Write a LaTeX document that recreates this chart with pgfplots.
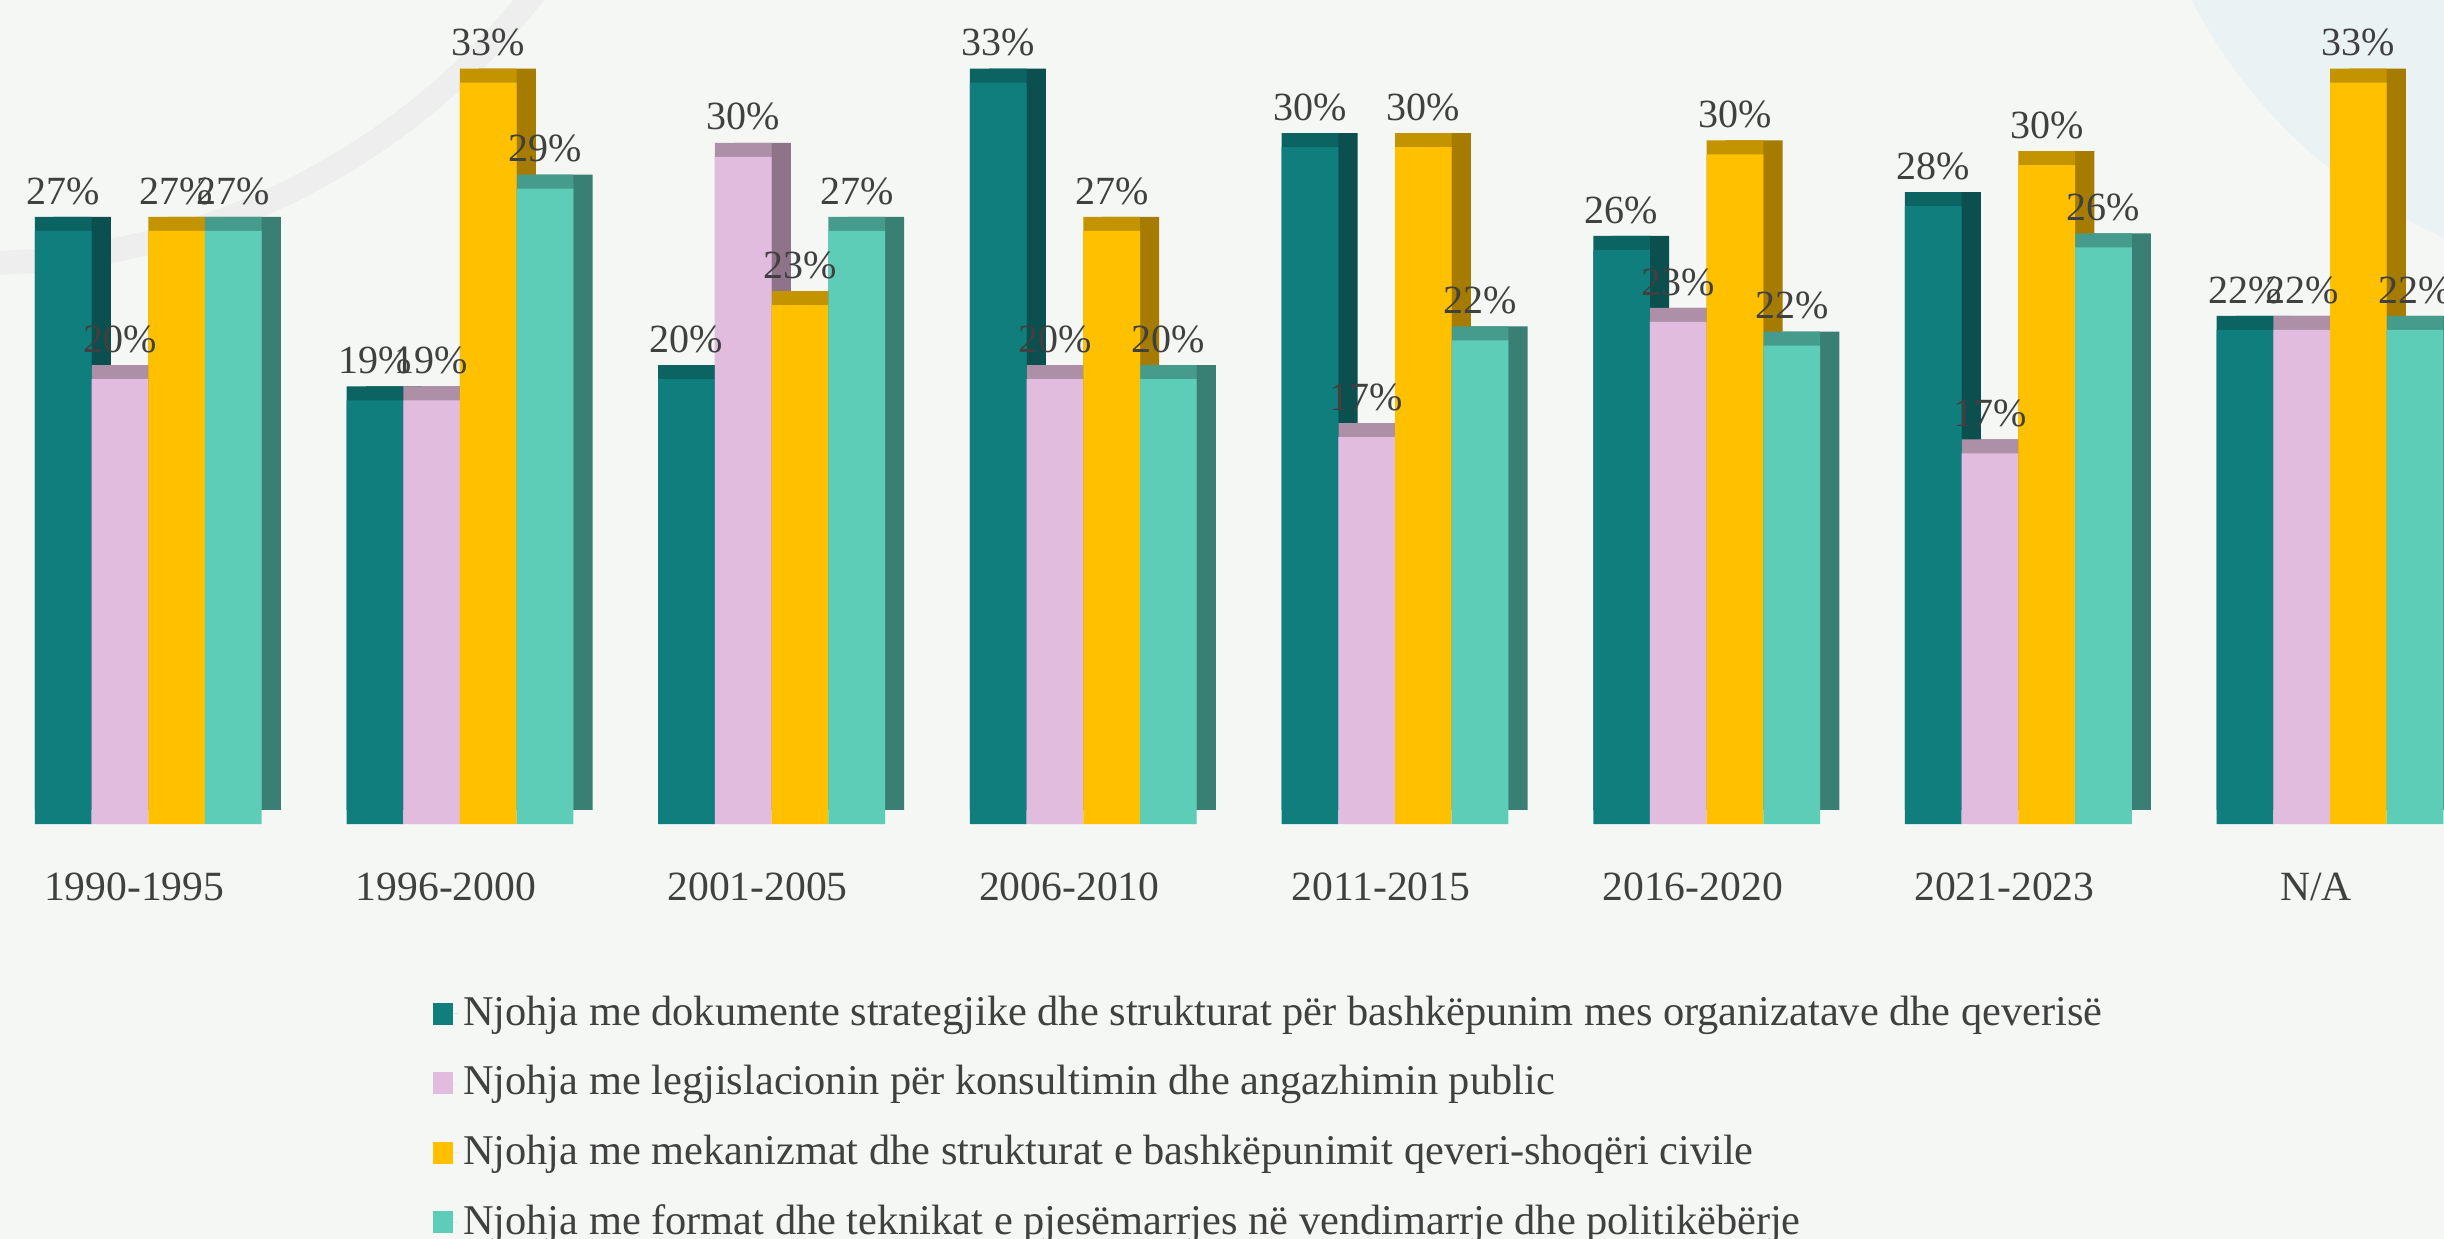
\documentclass[border=0pt]{standalone}
\usepackage{fontspec}
\setmainfont{Liberation Serif}
\usepackage{pgfplots}
\pgfplotsset{compat=1.18}
\definecolor{cTeal}{HTML}{107E7D}
\definecolor{cPink}{HTML}{E1BCDE}
\definecolor{cYel}{HTML}{FFC000}
\definecolor{cMint}{HTML}{5ECDB7}
\definecolor{sTeal}{HTML}{0B4F4F}
\definecolor{sPink}{HTML}{8E7389}
\definecolor{sYel}{HTML}{A67C00}
\definecolor{sMint}{HTML}{3A7F73}
\definecolor{tTeal}{HTML}{0C6462}
\definecolor{tPink}{HTML}{AD8FA8}
\definecolor{tYel}{HTML}{C49300}
\definecolor{tMint}{HTML}{469C8C}
\definecolor{txt}{HTML}{404040}
\definecolor{bg}{HTML}{F5F7F5}
\definecolor{deco}{HTML}{EAF2F4}
\definecolor{arc}{HTML}{EDEEED}
\pgfplotstableread{
x  a     b     c     d
0  26.67 20.00 26.67 26.67
1  19.05 19.05 33.33 28.57
2  20.00 30.00 23.33 26.67
3  33.33 20.00 26.67 20.00
4  30.43 17.39 30.43 21.74
5  25.81 22.58 30.11 21.51
6  27.78 16.67 29.63 25.93
7  22.22 22.22 33.33 22.22
}\data
\begin{document}
\begin{tikzpicture}
\useasboundingbox (0,0) rectangle (611bp,309.75bp);
\clip (0,0) rectangle (611bp,309.75bp);
\fill[bg] (0,0) rectangle (611bp,309.75bp);
\fill[deco] (662.5bp,368.2bp) circle (128.6bp);
\draw[arc, line width=6bp] (-5bp,420bp) circle (176bp);
\begin{axis}[
  at={(0bp,103.75bp)}, anchor=south west,
  width=611bp, height=206bp, scale only axis,
  xmin=-0.4757, xmax=7.3657, ymin=0, ymax=37.05,
  clip=false,
  axis line style={draw=none}, tick style={draw=none},
  ytick=\empty,
  xtick={0,1,2,3,4,5,6,7},
  xticklabels={1990-1995,1996-2000,2001-2005,2006-2010,2011-2015,2016-2020,2021-2023,N/A},
  xticklabel style={font=\fontsize{10.4bp}{12.5bp}\selectfont, text=txt, anchor=base, yshift=-14.8bp, xshift=-3.5bp},
  ybar, bar width=0.1819,
  legend cell align=left,
  legend style={at={(axis description cs:0.1769,-0.202)}, anchor=north west, draw=none, fill=none,
    font=\fontsize{10.6bp}{12.7bp}\selectfont, text=txt, row sep=6.1bp, inner sep=0pt,
    nodes={inner sep=1.2bp}},
  legend image code/.code={\fill[#1] (0bp,-2.75bp) rectangle (5bp,2.75bp); \path (0bp,0bp) -- (6.3bp,0bp);},
  side/.style={draw=none, forget plot, xshift=4.8bp, yshift=3.5bp},
  top/.style={draw=none, forget plot, yshift=3.5bp},
  lbl/.style={draw=none, point meta=explicit,
    nodes near coords={\pgfmathprintnumber[fixed,precision=0]{\pgfplotspointmeta}\%},
    nodes near coords style={font=\fontsize{10bp}{12bp}\selectfont, text=txt, anchor=base, yshift=6.7bp,
      /pgf/number format/assume math mode=true}},
]
% side faces
\addplot[fill=sTeal, side, bar shift=-0.27285] table[x=x,y=a] {\data};
\addplot[fill=sPink, side, bar shift=-0.09095] table[x=x,y=b] {\data};
\addplot[fill=sYel,  side, bar shift=0.09095]  table[x=x,y=c] {\data};
\addplot[fill=sMint, side, bar shift=0.27285]  table[x=x,y=d] {\data};
% top faces
\addplot[fill=tTeal, top, bar shift=-0.27285] table[x=x,y=a] {\data};
\addplot[fill=tPink, top, bar shift=-0.09095] table[x=x,y=b] {\data};
\addplot[fill=tYel,  top, bar shift=0.09095]  table[x=x,y=c] {\data};
\addplot[fill=tMint, top, bar shift=0.27285]  table[x=x,y=d] {\data};
% front faces
\addplot[fill=cTeal, lbl, bar shift=-0.27285] table[x=x,y=a,meta=a] {\data};
\addplot[fill=cPink, lbl, bar shift=-0.09095] table[x=x,y=b,meta=b] {\data};
\addplot[fill=cYel,  lbl, bar shift=0.09095]  table[x=x,y=c,meta=c] {\data};
\addplot[fill=cMint, lbl, bar shift=0.27285]  table[x=x,y=d,meta=d] {\data};
\legend{Njohja me dokumente strategjike dhe strukturat për bashkëpunim mes organizatave dhe qeverisë,
Njohja me legjislacionin për konsultimin dhe angazhimin public,
Njohja me mekanizmat dhe strukturat e bashkëpunimit qeveri-shoqëri civile,
Njohja me format dhe teknikat e pjesëmarrjes në vendimarrje dhe politikëbërje}
\end{axis}
\end{tikzpicture}
\end{document}
